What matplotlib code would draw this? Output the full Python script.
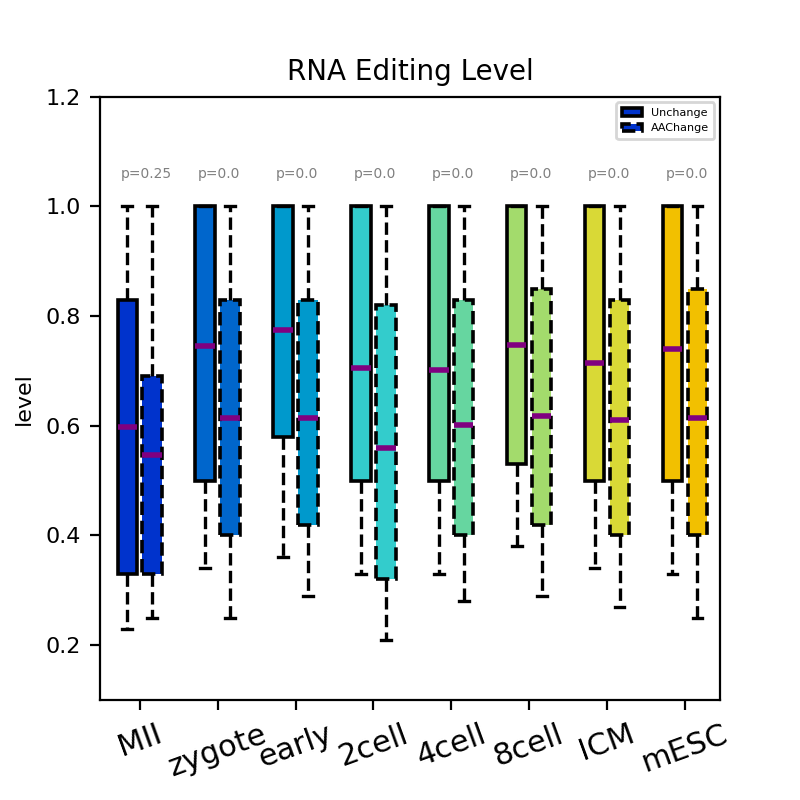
import matplotlib
matplotlib.use("Agg")
import matplotlib.pyplot as plt
from matplotlib.patches import Patch

stages = ["MII", "zygote", "early", "2cell", "4cell", "8cell", "ICM", "mESC"]
colors = ["#0033cc", "#0066cc", "#0099cc", "#33cccc",
          "#66d6a0", "#a3db6c", "#d9d936", "#f2c000"]
pvalues = ["p=0.25", "p=0.0", "p=0.0", "p=0.0", "p=0.0", "p=0.0", "p=0.0", "p=0.0"]

# Unchange: whislo, q1, med, q3, whishi
unchange_lo = [0.23, 0.34, 0.36, 0.33, 0.33, 0.38, 0.34, 0.33]
unchange_q1 = [0.33, 0.50, 0.58, 0.50, 0.50, 0.53, 0.50, 0.50]
unchange_med = [0.598, 0.745, 0.775, 0.705, 0.702, 0.748, 0.715, 0.74]
unchange_q3 = [0.83, 1.0, 1.0, 1.0, 1.0, 1.0, 1.0, 1.0]
unchange_hi = [1.0, 1.0, 1.0, 1.0, 1.0, 1.0, 1.0, 1.0]

# AAChange
aa_lo = [0.25, 0.25, 0.29, 0.21, 0.28, 0.29, 0.27, 0.25]
aa_q1 = [0.33, 0.40, 0.42, 0.32, 0.40, 0.42, 0.40, 0.40]
aa_med = [0.547, 0.615, 0.615, 0.56, 0.602, 0.618, 0.61, 0.615]
aa_q3 = [0.69, 0.83, 0.83, 0.82, 0.83, 0.85, 0.83, 0.85]
aa_hi = [1.0, 1.0, 1.0, 1.0, 1.0, 1.0, 1.0, 1.0]


def make_stats(lo, q1, med, q3, hi):
    return [dict(whislo=a, q1=b, med=c, q3=d, whishi=e, fliers=[])
            for a, b, c, d, e in zip(lo, q1, med, q3, hi)]


fig, ax = plt.subplots(figsize=(4, 4), dpi=200)
fig.subplots_adjust(left=0.125, right=0.9, top=0.879, bottom=0.125)

ticks = list(range(1, len(stages) + 1))
offset = 0.16
width = 0.25

groups = [
    (make_stats(unchange_lo, unchange_q1, unchange_med, unchange_q3, unchange_hi), -offset, "-"),
    (make_stats(aa_lo, aa_q1, aa_med, aa_q3, aa_hi), offset, "--"),
]
for stats, shift, ls in groups:
    bp = ax.bxp(stats, positions=[t + shift for t in ticks], widths=width,
                patch_artist=True, showfliers=False, manage_ticks=False,
                boxprops=dict(linewidth=1.3, linestyle=ls, edgecolor="black"),
                whiskerprops=dict(linewidth=1.2, linestyle="--", color="black"),
                capprops=dict(linewidth=1.2, color="black"),
                medianprops=dict(linewidth=2, color="purple"))
    for patch, c in zip(bp["boxes"], colors):
        patch.set_facecolor(c)

# p-value labels start a little left of each tick
for t, p in zip(ticks, pvalues):
    ax.text(t - 0.25, 1.06, p, ha="left", va="center", fontsize=5, color="gray")

ax.set_xticks(ticks)
ax.set_xticklabels(stages, rotation=20, fontsize=11)
ax.set_xlim(0.49, 8.45)
ax.set_ylim(0.1, 1.2)
ax.set_yticks([0.2, 0.4, 0.6, 0.8, 1.0, 1.2])
ax.tick_params(axis="y", labelsize=8)
ax.set_ylabel("level", fontsize=8)
ax.set_title("RNA Editing Level", fontsize=10)

handles = [Patch(facecolor=colors[0], edgecolor="black", linewidth=1.3, linestyle="-", label="Unchange"),
           Patch(facecolor=colors[0], edgecolor="black", linewidth=1.3, linestyle="--", label="AAChange")]
ax.legend(handles=handles, loc="upper right", fontsize=4, handlelength=1.8,
          borderpad=0.5, labelspacing=0.5)

fig.savefig("out.png", dpi=200)
